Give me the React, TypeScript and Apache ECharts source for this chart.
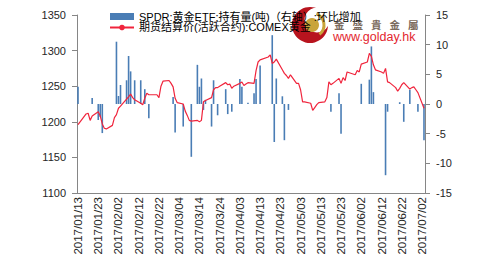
import React, { useEffect, useRef } from "react";
import * as echarts from "echarts";

const FONT = "'Liberation Sans', Arial, 'Noto Sans CJK SC', sans-serif";

const barName = "SPDR:黄金ETF:持有量(吨)（右轴）:环比增加";
const lineName = "期货结算价(活跃合约):COMEX黄金";

// COMEX gold settlement (left axis)
const priceDates = [
  "01/13", "01/17", "01/18", "01/19", "01/20", "01/23", "01/24", "01/25", "01/26", "01/27",
  "01/30", "01/31", "02/01", "02/02", "02/03", "02/06", "02/07", "02/08", "02/09", "02/10",
  "02/13", "02/14", "02/15", "02/16", "02/17", "02/21", "02/22", "02/23", "02/24", "02/27",
  "02/28", "03/01", "03/02", "03/03", "03/06", "03/07", "03/08", "03/09", "03/10", "03/13",
  "03/14", "03/15", "03/16", "03/17", "03/20", "03/21", "03/22", "03/23", "03/24", "03/27",
  "03/28", "03/29", "03/30", "03/31", "04/03", "04/04", "04/05", "04/06", "04/07", "04/10",
  "04/11", "04/12", "04/13", "04/17", "04/18", "04/19", "04/20", "04/21", "04/24", "04/25",
  "04/26", "04/27", "04/28", "05/01", "05/02", "05/03", "05/04", "05/05", "05/08", "05/09",
  "05/10", "05/11", "05/12", "05/15", "05/16", "05/17", "05/18", "05/19", "05/22", "05/23",
  "05/24", "05/25", "05/26", "05/30", "05/31", "06/01", "06/02", "06/05", "06/06", "06/07",
  "06/08", "06/09", "06/12", "06/13", "06/14", "06/15", "06/16", "06/19", "06/20", "06/21",
  "06/22", "06/23", "06/26", "06/27", "06/28", "06/29", "06/30", "07/03",
];
const priceValues = [
  1196, 1211, 1212, 1202, 1208, 1214, 1208, 1197, 1191, 1190,
  1195, 1206, 1210, 1219, 1222, 1232, 1235, 1239, 1234, 1231,
  1226, 1224, 1233, 1240, 1238, 1238, 1234, 1250, 1257, 1258,
  1254, 1249, 1233, 1227, 1225, 1215, 1209, 1202, 1201, 1202,
  1200, 1202, 1228, 1230, 1234, 1245, 1248, 1248, 1250, 1255,
  1252, 1253, 1247, 1250, 1254, 1256, 1251, 1253, 1255, 1254,
  1272, 1284, 1287, 1291, 1294, 1282, 1284, 1288, 1273, 1268,
  1265, 1261, 1266, 1254, 1254, 1245, 1228, 1228, 1226, 1216,
  1220, 1224, 1227, 1228, 1234, 1256, 1252, 1254, 1261, 1254,
  1262, 1258, 1270, 1266, 1272, 1270, 1281, 1284, 1296, 1292,
  1280, 1273, 1270, 1268, 1275, 1256, 1255, 1248, 1243, 1247,
  1252, 1255, 1246, 1248, 1249, 1245, 1241, 1219,
];

// SPDR holdings change, tonnes (right axis)
const flowDates = [
  "01/13", "01/20", "01/23", "01/24", "01/25", "02/01", "02/02", "02/03", "02/06", "02/07",
  "02/08", "02/10", "02/13", "02/15", "02/17", "03/01", "03/02", "03/06", "03/10", "03/13",
  "03/14", "03/15", "03/16", "03/17", "03/20", "03/21", "03/23", "03/27", "03/28", "03/30",
  "04/03", "04/04", "04/07", "04/10", "04/11", "04/13", "04/19", "04/20", "04/21", "04/24",
  "04/25", "04/27", "05/18", "05/22", "05/23", "06/02", "06/06", "06/07", "06/08", "06/14",
  "06/15", "06/21", "06/23", "06/26", "06/30", "07/03",
];
const flowValues = [
  2.9, 1.0, -2.7, -2.2, -4.9, 10.5, 1.35, 3.2, 4.0, 8.1,
  5.5, 4.0, 4.0, 2.5, -2.4, 1.2, -4.8, -3.8, -8.9, 6.6,
  2.9, 4.3, -1.0, 0.7, -3.8, 4.0, -1.9, 2.5, -1.7, -1.3,
  4.2, 2.9, 0.2, 1.8, 4.2, 6.5, 11.6, -6.4, 4.3, 1.3,
  -6.1, -1.0, -1.3, 1.8, -5.0, 3.4, 4.1, 9.7, 2.0, -12.0,
  -1.3, 0.3, -3.0, 2.4, -1.3, -6.1,
];

const leftTicks = { min: 1100, max: 1350, interval: 50 };
const rightTicks = { min: -15, max: 15, interval: 5 };

function pad(n: number) {
  return String(n).padStart(2, "0");
}

function buildCategories(): string[] {
  const out: string[] = [];
  const d = new Date(Date.UTC(2017, 0, 13));
  const end = Date.UTC(2017, 6, 3);
  while (d.getTime() <= end) {
    out.push(`${d.getUTCFullYear()}/${pad(d.getUTCMonth() + 1)}/${pad(d.getUTCDate())}`);
    d.setUTCDate(d.getUTCDate() + 1);
  }
  return out;
}

export default function App() {
  const ref = useRef<HTMLDivElement>(null);

  useEffect(() => {
    if (!ref.current) return;
    const chart = echarts.init(ref.current, undefined, { renderer: "svg" });
    const categories = buildCategories();
    const priceMap = new Map<string, number>();
    priceDates.forEach((d, i) => priceMap.set("2017/" + d, priceValues[i]));
    const flowMap = new Map<string, number>();
    flowDates.forEach((d, i) => flowMap.set("2017/" + d, flowValues[i]));
    const lineData = categories.map((c) => (priceMap.has(c) ? priceMap.get(c)! : null));
    const barData = categories.map((c) => (flowMap.has(c) ? flowMap.get(c)! : null));

    const axisColor = "#868686";
    const labelColor = "#262626";

    const logoChars = ["金", "盛", "貴", "金", "屬"];

    chart.setOption({
      animation: false,
      grid: { left: 77, right: 67, top: 15, bottom: 71 },
      legend: {
        orient: "vertical",
        left: 104,
        top: 6,
        itemWidth: 24,
        itemHeight: 7,
        itemGap: 0,
        textStyle: { fontSize: 11, color: "#000", fontFamily: FONT },
        data: [{ name: barName, icon: "rect" }, { name: lineName }],
        z: 10,
      },
      graphic: [
        { type: "circle", z: 1, shape: { cx: 310, cy: 25, r: 18 }, style: { fill: "#B8141E" } },
        { type: "circle", z: 1, shape: { cx: 317, cy: 20, r: 12.5 }, style: { fill: "#ffffff" } },
        { type: "circle", z: 1, shape: { cx: 312, cy: 25, r: 7 }, style: { fill: "#C9A43A" } },
        {
          type: "arc",
          z: 1,
          shape: { cx: 312, cy: 25, r: 12, startAngle: -1.2, endAngle: 0.9 },
          style: { stroke: "#C9A43A", lineWidth: 3, fill: "none" },
        },
        ...logoChars.map((ch, i) => ({
          type: "text",
          z: 1,
          x: 334 + i * 18.5,
          y: 19.5,
          style: {
            text: ch,
            fontSize: 10.5,
            fontWeight: "bold",
            fill: "#7A6A5C",
            fontFamily: "'Noto Sans CJK TC', sans-serif",
          },
        })),
        {
          type: "text",
          z: 1,
          x: 333,
          y: 31,
          style: {
            text: "www.golday.hk",
            fontSize: 12.5,
            fill: "#E3262E",
            fontFamily: FONT,
          },
        },
      ],
      xAxis: {
        type: "category",
        data: categories,
        boundaryGap: true,
        axisLine: { onZero: false, lineStyle: { color: axisColor } },
        axisTick: { interval: 9, alignWithLabel: true, length: 4, lineStyle: { color: axisColor } },
        axisLabel: {
          interval: 9,
          rotate: 90,
          fontSize: 11.5,
          color: labelColor,
          margin: 4,
          fontFamily: FONT,
        },
        splitLine: { show: false },
      },
      yAxis: [
        {
          type: "value",
          ...leftTicks,
          splitLine: { show: false },
          axisLine: { show: true, lineStyle: { color: axisColor } },
          axisTick: { show: true, length: 5, lineStyle: { color: axisColor } },
          axisLabel: {
            fontSize: 11,
            color: labelColor,
            margin: 11,
            fontFamily: FONT,
            formatter: (v: number) => String(v),
          },
        },
        {
          type: "value",
          position: "right",
          ...rightTicks,
          splitLine: { show: false },
          axisLine: { show: true, lineStyle: { color: axisColor } },
          axisTick: { show: true, length: 5, lineStyle: { color: axisColor } },
          axisLabel: {
            fontSize: 11,
            color: labelColor,
            margin: 11,
            fontFamily: FONT,
            formatter: (v: number) => String(v),
          },
        },
      ],
      series: [
        {
          name: barName,
          type: "bar",
          yAxisIndex: 1,
          data: barData,
          barWidth: 1.6,
          itemStyle: { color: "#4A7DB5" },
        },
        {
          name: lineName,
          type: "line",
          yAxisIndex: 0,
          data: lineData,
          connectNulls: true,
          symbol: "none",
          lineStyle: { color: "#F0243C", width: 1.2 },
          itemStyle: { color: "#F0243C" },
        },
      ],
    });
    return () => chart.dispose();
  }, []);

  return (
    <div
      ref={ref}
      style={{ position: "absolute", left: 0, top: 0, width: 492, height: 264, background: "#fff" }}
    />
  );
}
